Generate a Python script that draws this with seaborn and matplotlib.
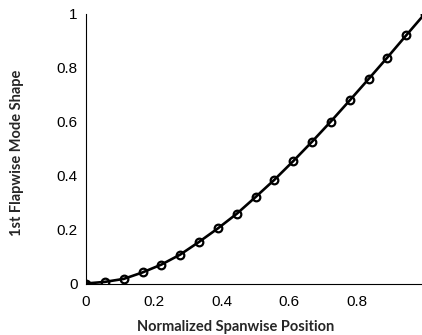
import numpy as np
import pandas as pd
import matplotlib
matplotlib.use("Agg")
import matplotlib.pyplot as plt
import seaborn as sns

# Normalized spanwise stations (19 nodes along the blade)
span_position = [0.0, 1/18, 2/18, 3/18, 4/18, 5/18, 6/18, 7/18, 8/18, 9/18,
                 10/18, 11/18, 12/18, 13/18, 14/18, 15/18, 16/18, 17/18, 1.0]
# First flapwise mode shape amplitude at each station
mode_shape = [0.0, 0.006, 0.017, 0.041, 0.070, 0.107, 0.154, 0.204, 0.258, 0.320,
              0.384, 0.453, 0.525, 0.600, 0.678, 0.757, 0.837, 0.919, 1.0]

x_ticks = [0, 0.2, 0.4, 0.6, 0.8, 1.0]
x_tick_labels = ["0", "0.2", "0.4", "0.6", "0.8", "1"]
y_ticks = [0, 0.2, 0.4, 0.6, 0.8, 1.0]
y_tick_labels = ["0", "0.2", "0.4", "0.6", "0.8", "1"]

df = pd.DataFrame({"x": span_position, "y": mode_shape})

sns.set_style("white")
plt.rcParams["font.family"] = ["Liberation Sans", "DejaVu Sans"]

fig = plt.figure(figsize=(4.22, 3.35), dpi=100)
ax = fig.add_axes([86 / 422, 51.5 / 335, 339 / 422, 270 / 335])

sns.lineplot(data=df, x="x", y="y", ax=ax, color="black", linewidth=1.9,
             marker="o", markersize=5.5, markerfacecolor="none",
             markeredgecolor="black", markeredgewidth=1.6)

ax.set_xlim(0, 1)
ax.set_ylim(0, 1)
ax.set_xticks(x_ticks)
ax.set_xticklabels(x_tick_labels)
ax.set_yticks(y_ticks)
ax.set_yticklabels(y_tick_labels)
ax.tick_params(axis="both", direction="in", length=3, width=0.8,
               labelsize=11, colors="black")
ax.tick_params(axis="x", pad=8)
ax.tick_params(axis="y", pad=6)

for side in ("top", "right"):
    ax.spines[side].set_visible(False)
for side in ("left", "bottom"):
    ax.spines[side].set_color("black")
    ax.spines[side].set_linewidth(0.8)

label_font = dict(family=["Lato", "DejaVu Sans"], fontweight="bold", fontsize=10.5)
ax.set_xlabel("Normalized Spanwise Position", **label_font)
ax.set_ylabel("1st Flapwise Mode Shape", **label_font)
ax.xaxis.set_label_coords((236 - 86) / 339, (283.5 - 320) / 270)
ax.yaxis.set_label_coords((24 - 86) / 339, (283.5 - 153) / 270)

fig.savefig("out.png", dpi=100)
